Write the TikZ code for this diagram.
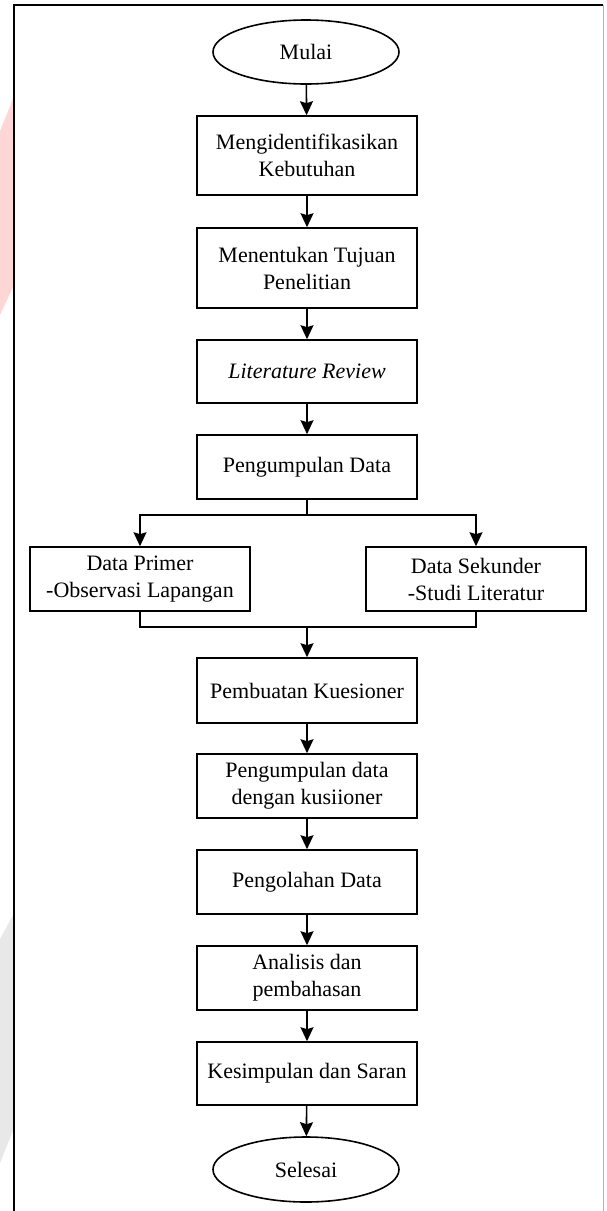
\documentclass[tikz,border=0pt]{standalone}
\usepackage{fontspec}
\setmainfont{Liberation Serif}
\usetikzlibrary{arrows.meta,shapes.geometric}

\begin{document}
\begin{tikzpicture}[x=1pt, y=-1pt]
      \tikzstyle{every node}=[font=\fontsize{22}{27}\selectfont, align=center, inner sep=0pt]
      \tikzstyle{proc}=[rectangle, draw, line width=1.6pt, minimum width=220pt, minimum height=64pt]
      \tikzstyle{term}=[ellipse, draw, line width=1.6pt, minimum width=186pt, minimum height=64pt]
      \tikzstyle{flow}=[line width=1.6pt, -{Stealth[length=14pt, width=13pt, inset=2pt]}]
      \useasboundingbox (0,0) rectangle (606,1211);

      % watermark traces and frame
      \fill[red!16] (0,131) -- (13,99) -- (13,287) -- (0,315) -- cycle;
      \fill[black!9] (0,939) -- (13,915) -- (13,1131) -- (0,1163) -- cycle;
      \draw[line width=2pt] (14,1211) -- (14,5) -- (603,5);
      \draw[black!30, line width=1pt] (603,5) -- (603,1211);

      \path (306,52) node[term] (t1) {Mulai};
      \path (307,155.5) node[proc, minimum height=79pt] (p1) {Mengidentifikasikan\\Kebutuhan};
      \path (307,268) node[proc, minimum height=80pt] (p2) {Menentukan Tujuan\\Penelitian};
      \path (307,371.5) node[proc, minimum height=63pt] (p3) {\textit{Literature Review}};
      \path (307,467) node[proc] (p4) {Pengumpulan Data};

      \path (140,579) node[proc] (d1) {Data Primer\\-Observasi Lapangan};
      \path (476,579) node[proc] (d2) {Data Sekunder\\-Studi Literatur};

      \path (307,690.5) node[proc, minimum height=65pt] (p5) {Pembuatan Kuesioner};
      \path (307,786) node[proc] (p6) {Pengumpulan data\\dengan kusiioner};
      \path (307,882) node[proc] (p7) {Pengolahan Data};
      \path (307,978) node[proc] (p8) {Analisis dan\\pembahasan};
      \path (307,1073.5) node[proc, minimum height=63pt] (p9) {Kesimpulan dan Saran};
      \path (306,1169.5) node[term, minimum height=65pt] (t2) {Selesai};

      \coordinate (split) at (307,515);
      \coordinate (merge) at (307,627);

      \draw[flow] (t1) -- (p1);
      \foreach \a/\b in {p1/p2, p2/p3, p3/p4, p5/p6, p6/p7, p7/p8, p8/p9}
      {
        \draw[flow] (\a) -- (\b);
      }
      \draw[flow] (p9) -- (t2);

      \draw[line width=1.6pt] (p4) -- (split);
      \draw[flow] (split) -| (d1);
      \draw[flow] (split) -| (d2);
      \draw[line width=1.6pt] (d1) |- (merge);
      \draw[line width=1.6pt] (d2) |- (merge);
      \draw[flow] (merge) -- (p5);
    \end{tikzpicture}
\end{document}
